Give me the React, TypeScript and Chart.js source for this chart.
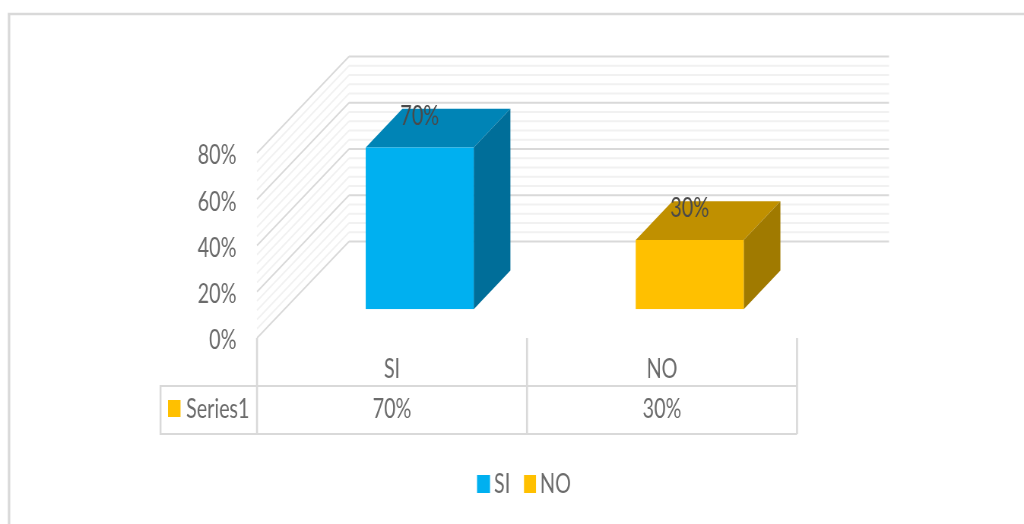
import React, { useEffect, useRef } from "react";
import { Chart, registerables } from "chart.js";

Chart.register(...registerables);

// Chart content
const categories = ["SI", "NO"];
const seriesName = "Series1";
const seriesValues = [70, 30];
const axisMax = 80;
const majorStep = 20;
const minorStep = 4;

// Face colours: front, top, side
const frontColors = ["#00B0F0", "#FFC000"];
const topColors = ["#0084B6", "#C09000"];
const sideColors = ["#006E99", "#A07A00"];
const seriesKeyColor = "#FFC000";

const FONT = 'Lato, "Liberation Sans", sans-serif';
const FONT_SIZE = 26;
const TEXT = "#6b6b6b";
const LABEL = "#4a4a4a";
const MAJOR_LINE = "#d9d9d9";
const MINOR_LINE = "#f1f1f1";

// The drawing surface is wider than its display box, which condenses the whole chart horizontally
const DISPLAY_W = 1024;
const DISPLAY_H = 524;
const SURFACE_W = 1347;
const X = (px: number) => (px * SURFACE_W) / DISPLAY_W;

// Projection of the floor depth onto the screen
const WALL_DX = X(92);
const WALL_DY = 96.5;
const BAR_OFFSET_X = X(27.7);
const BAR_OFFSET_Y = 28.7;
const BAR_DEPTH_X = X(36.7);
const BAR_DEPTH_Y = 38.7;

const poly = (ctx: CanvasRenderingContext2D, pts: number[][], fill: string) => {
  ctx.beginPath();
  pts.forEach(([x, y], i) => (i ? ctx.lineTo(x, y) : ctx.moveTo(x, y)));
  ctx.closePath();
  ctx.fillStyle = fill;
  ctx.fill();
};

const segment = (
  ctx: CanvasRenderingContext2D,
  x1: number,
  y1: number,
  x2: number,
  y2: number,
  color: string,
  width: number
) => {
  ctx.beginPath();
  ctx.moveTo(x1, y1);
  ctx.lineTo(x2, y2);
  ctx.strokeStyle = color;
  ctx.lineWidth = width;
  ctx.stroke();
};

// Outer frame, side wall and back wall with major and minor gridlines
const wallsPlugin = {
  id: "walls",
  beforeDatasetsDraw(chart: any) {
    const { ctx, chartArea, scales } = chart;
    ctx.save();
    segment(ctx, X(9), 540, X(9), 14, "#d9d9d9", X(2.5));
    segment(ctx, X(9) - X(1.25), 14, X(1040), 14, "#d9d9d9", 2.5);

    const draw = (major: boolean) => {
      for (let v = 0; v <= axisMax; v += minorStep) {
        if ((v % majorStep === 0) !== major) continue;
        const y = scales.y.getPixelForValue(v);
        const color = major ? MAJOR_LINE : MINOR_LINE;
        const bx = chartArea.left + WALL_DX;
        const by = y - WALL_DY;
        segment(ctx, chartArea.left, y, bx, by, color, 1.7);
        segment(ctx, bx, by, chartArea.right + WALL_DX, by, color, major ? 1.8 : 2);
      }
    };
    draw(false);
    draw(true);
    ctx.restore();
  },
};

// Pushes the columns back onto the floor and adds their top and side faces
const columnsPlugin = {
  id: "columns",
  beforeDatasetDraw(chart: any) {
    const { ctx } = chart;
    ctx.save();
    ctx.translate(BAR_OFFSET_X, -BAR_OFFSET_Y);
    chart.getDatasetMeta(0).data.forEach((bar: any, i: number) => {
      const l = bar.x - bar.width / 2;
      const r = bar.x + bar.width / 2;
      const t = bar.y;
      const b = bar.base;
      poly(ctx, [[l, t], [l + BAR_DEPTH_X, t - BAR_DEPTH_Y], [r + BAR_DEPTH_X, t - BAR_DEPTH_Y], [r, t]], topColors[i]);
      poly(ctx, [[r, t], [r + BAR_DEPTH_X, t - BAR_DEPTH_Y], [r + BAR_DEPTH_X, b - BAR_DEPTH_Y], [r, b]], sideColors[i]);
    });
  },
  afterDatasetDraw(chart: any) {
    chart.ctx.restore();
  },
};

// Value labels, data table and category legend
const annotationsPlugin = {
  id: "annotations",
  afterDraw(chart: any) {
    const { ctx, chartArea, scales } = chart;
    ctx.save();
    ctx.font = `${FONT_SIZE}px ${FONT}`;
    ctx.textBaseline = "middle";
    ctx.textAlign = "center";

    ctx.fillStyle = LABEL;
    chart.getDatasetMeta(0).data.forEach((bar: any, i: number) => {
      ctx.fillText(`${seriesValues[i]}%`, bar.x + BAR_OFFSET_X, bar.y - BAR_OFFSET_Y - 31);
    });

    const tableTop = 386;
    const tableBottom = 434;
    const tableLeft = X(160.5);
    const edges = [
      chartArea.left,
      ...categories.map(
        (_, i) => scales.x.getPixelForValue(i) + (chartArea.right - chartArea.left) / categories.length / 2
      ),
    ];
    edges.forEach((x) => segment(ctx, x, chartArea.bottom, x, tableBottom, MAJOR_LINE, X(2)));
    segment(ctx, tableLeft, tableTop, chartArea.right, tableTop, MAJOR_LINE, 2);
    segment(ctx, tableLeft, tableBottom, chartArea.right, tableBottom, MAJOR_LINE, 2);
    segment(ctx, tableLeft, tableTop - 1, tableLeft, tableBottom + 1, MAJOR_LINE, X(2));

    const rowY = (tableTop + tableBottom) / 2;
    ctx.fillStyle = TEXT;
    seriesValues.forEach((v, i) => {
      ctx.fillText(`${v}%`, scales.x.getPixelForValue(i), rowY);
    });
    ctx.textAlign = "left";
    ctx.fillText(seriesName, X(186), rowY);
    ctx.fillStyle = seriesKeyColor;
    ctx.fillRect(X(168), 400, X(12.5), 17);

    const legendY = 484;
    const legendKeys = [477, 524];
    categories.forEach((c, i) => {
      ctx.fillStyle = frontColors[i];
      ctx.fillRect(X(legendKeys[i]), legendY - 9, X(i === 0 ? 13 : 12), 18);
      ctx.fillStyle = TEXT;
      ctx.fillText(c, X(legendKeys[i] + (i === 0 ? 17 : 16)), legendY + 1);
    });
    ctx.restore();
  },
};

export default function App() {
  const ref = useRef<HTMLCanvasElement>(null);

  useEffect(() => {
    const chart = new Chart(ref.current!, {
      type: "bar",
      data: {
        labels: categories,
        datasets: [
          {
            label: seriesName,
            data: seriesValues,
            backgroundColor: frontColors,
            barPercentage: 0.4,
            categoryPercentage: 1,
          },
        ],
      },
      options: {
        responsive: false,
        animation: false,
        events: [],
        layout: { padding: { top: 153, right: X(227), bottom: 86, left: 0 } },
        plugins: { legend: { display: false }, tooltip: { enabled: false }, title: { display: false } },
        scales: {
          x: {
            grid: { display: false },
            border: { display: false },
            ticks: { color: TEXT, padding: 8, font: { family: FONT, size: FONT_SIZE }, maxRotation: 0 },
            afterFit: (s: any) => {
              s.height = 100;
            },
          },
          y: {
            min: 0,
            max: axisMax,
            grid: { display: false },
            border: { display: false },
            ticks: {
              stepSize: majorStep,
              color: TEXT,
              padding: X(14.5),
              labelOffset: 3,
              font: { family: FONT, size: FONT_SIZE },
              callback: (v: any) => `${v}%`,
            },
            afterFit: (s: any) => {
              s.width = X(257);
            },
          },
        },
      },
      plugins: [wallsPlugin, columnsPlugin, annotationsPlugin],
    } as any);
    return () => chart.destroy();
  }, []);

  return (
    <div
      style={{
        position: "fixed",
        left: 0,
        top: 0,
        width: DISPLAY_W,
        height: DISPLAY_H,
        overflow: "hidden",
        background: "#fff",
      }}
    >
      <canvas
        ref={ref}
        width={SURFACE_W}
        height={DISPLAY_H}
        style={{ display: "block", width: DISPLAY_W, height: DISPLAY_H }}
      />
    </div>
  );
}
